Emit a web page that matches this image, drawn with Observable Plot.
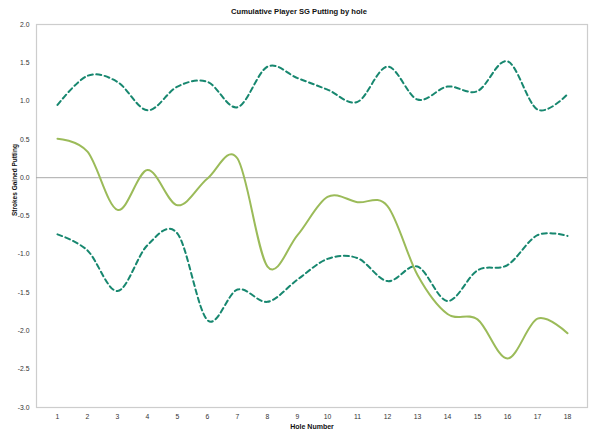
<!DOCTYPE html>
<html>
<head>
<meta charset="utf-8">
<script src="https://cdn.jsdelivr.net/npm/d3@7"></script>
<script src="https://cdn.jsdelivr.net/npm/@observablehq/plot@0.6"></script>
<style>
  body { margin: 0; background: white; }
  #wrap { position: relative; width: 598px; height: 440px; }
  #title { position: absolute; top: 7px; left: 0; width: 598px; text-align: center;
           font: bold 7.6px "Liberation Sans", Arial, sans-serif; color: #111; }
</style>
</head>
<body>
<div id="wrap">
  <div id="title">Cumulative Player SG Putting by hole</div>
  <div id="chart"></div>
</div>
<script>
// holes on the x axis
const holes = [1, 2, 3, 4, 5, 6, 7, 8, 9, 10, 11, 12, 13, 14, 15, 16, 17, 18]
// dashed upper band, player line, dashed lower band
const upper = [0.95, 1.33, 1.25, 0.88, 1.19, 1.25, 0.92, 1.45, 1.30, 1.15, 0.99, 1.45, 1.02, 1.19, 1.13, 1.52, 0.89, 1.09]
const player = [0.51, 0.34, -0.42, 0.10, -0.36, -0.01, 0.25, -1.16, -0.75, -0.25, -0.32, -0.37, -1.27, -1.78, -1.85, -2.36, -1.84, -2.03]
const lower = [-0.74, -0.95, -1.48, -0.88, -0.73, -1.86, -1.46, -1.62, -1.33, -1.06, -1.05, -1.35, -1.16, -1.61, -1.21, -1.14, -0.75, -0.76]
const yTicks = [-3, -2.5, -2, -1.5, -1, -0.5, 0, 0.5, 1, 1.5, 2]

const rows = arr => holes.map((h, i) => ({ hole: h, value: arr[i] }))

let chart = Plot.plot({
    width: 598,
    height: 440,
    marginTop: 24,
    marginBottom: 33,
    marginLeft: 36,
    marginRight: 11,
    x: { type: "point", domain: holes, padding: 0.5, label: null },
    y: { domain: [-3, 2], label: null },
    style: {
        fontFamily: "Liberation Sans, Arial, sans-serif",
        fontSize: "6.8px",
        color: "#333",
        background: "white",
    },
    marks: [
        Plot.frame({ stroke: "#cdcdcd", strokeWidth: 1.2 }),
        Plot.ruleY([0], { stroke: "#a9a9a9", strokeWidth: 1 }),
        Plot.axisY({ ticks: yTicks, tickSize: 0, tickPadding: 7, tickFormat: d => d.toFixed(1), label: null }),
        Plot.axisX({ tickSize: 0, tickPadding: 7, label: null }),
        Plot.line(rows(upper), { x: "hole", y: "value", stroke: "#17876f", strokeWidth: 2, strokeDasharray: "5,3.5", curve: "cardinal" }),
        Plot.line(rows(lower), { x: "hole", y: "value", stroke: "#17876f", strokeWidth: 2, strokeDasharray: "5,3.5", curve: "cardinal" }),
        Plot.line(rows(player), { x: "hole", y: "value", stroke: "#9bbb59", strokeWidth: 2, curve: "cardinal" }),
        Plot.text(["Strokes Gained Putting"], { frameAnchor: "left", rotate: -90, dx: -22, fontWeight: "bold", fontSize: 6.5, fill: "#111" }),
        Plot.text(["Hole Number"], { frameAnchor: "bottom", dy: 21, fontWeight: "bold", fontSize: 7, fill: "#111" }),
    ],
})

d3.select('#chart').append(() => chart)
</script>
</body>
</html>
